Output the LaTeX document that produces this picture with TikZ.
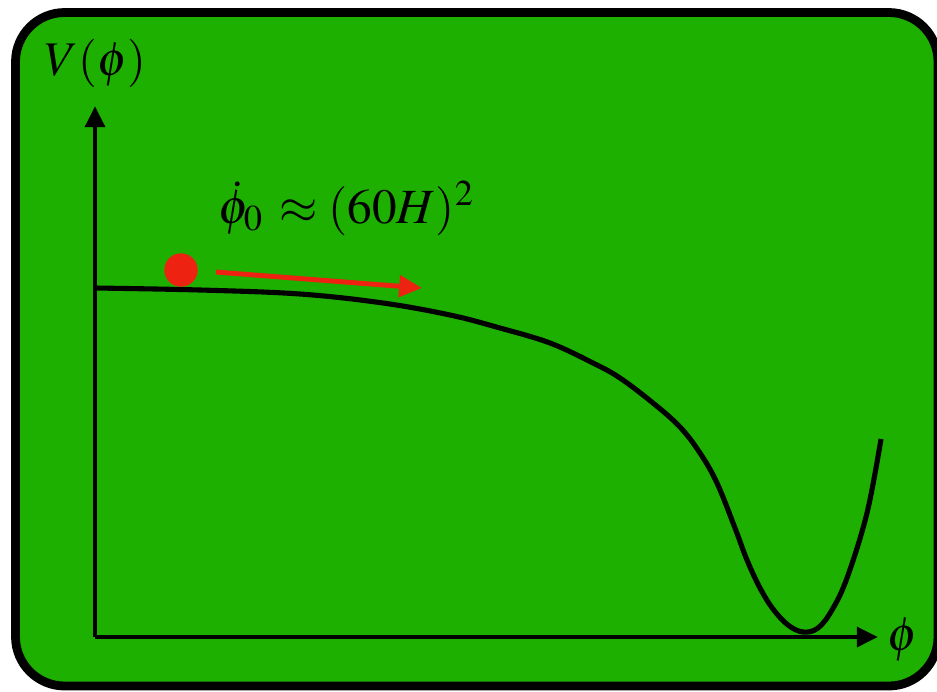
\documentclass[tikz,border=0pt]{standalone}
\usepackage{mathptmx}
\usepackage{tikz}
\usetikzlibrary{arrows.meta,positioning,calc}
\definecolor{pgreen}{HTML}{1DB000}
\definecolor{pred}{HTML}{EE2211}
\tikzset{
  frame/.style={draw=black,fill=pgreen,rounded corners=28pt,line width=5pt},
  axis/.style={-{Triangle[length=12pt,width=11pt]},line width=2.8pt,draw=black},
  pot/.style={line width=2.9pt,draw=black,line join=round},
  rarr/.style={-{Triangle[length=13pt,width=12pt]},line width=2.8pt,draw=pred},
  ball/.style={circle,fill=pred,minimum size=19pt,inner sep=0pt},
  lbl/.style={font=\fontsize{27.5}{32}\selectfont,inner sep=0pt},
}
\begin{document}
\begin{tikzpicture}[x=0.02cm,y=-0.02cm]
  \useasboundingbox (0,0) rectangle (937,691);
  \draw[frame] (15.5,12.5) rectangle (938,686);
  % axes
  \coordinate (O) at (95,637);
  \coordinate (ytop) at (95,106);
  \coordinate (xend) at (878,637);
  \draw[axis] (O) -- (ytop);
  \draw[axis] (O) -- (xend);
  \node[lbl,anchor=base west] (vlab) at (45,75) {$V(\phi)$};
  \node[lbl,anchor=base west] (xlab) at (887,650) {$\phi$};
  % potential
  \draw[pot] plot[smooth,tension=0.6] coordinates {(95,288) (200,290) (300,294) (383,303)
    (450,315) (500,328) (550,343) (593,363) (620,378) (653,403) (680,427) (700,453)
    (717,483) (735,528) (747,560) (760,588) (773,609) (788,625) (803,632) (818,628)
    (832,610) (847,578) (867,513) (881,439)};
  % rolling field
  \node[ball] (phi) at (181,270) {};
  \coordinate (vtip) at (422,288);
  \draw[rarr] ($(phi.east)+(18,2)$) -- (vtip);
  \node[lbl,font=\fontsize{28}{33}\selectfont,anchor=base west] (vel) at (218,223)
    {$\dot\phi_0\,\approx(60H)^2$};
\end{tikzpicture}
\end{document}
